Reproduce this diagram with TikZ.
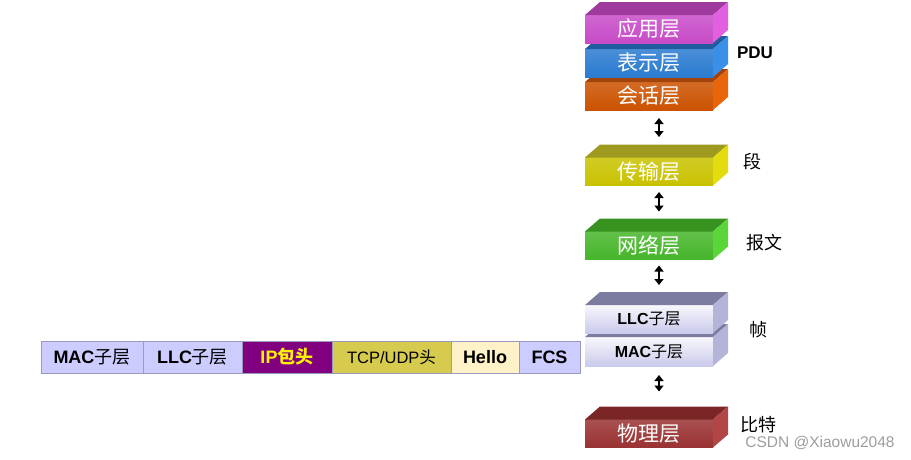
\documentclass[tikz,border=0pt]{standalone}
\usepackage{fontspec}
\setmainfont{Liberation Sans}
\newfontfamily\cjk{Noto Sans CJK SC}
\usetikzlibrary{arrows.meta}
\definecolor{appF}{HTML}{C84BC8}\definecolor{appT}{HTML}{9E3A9E}\definecolor{appS}{HTML}{E060E0}
\definecolor{preF}{HTML}{2A7BD0}\definecolor{preT}{HTML}{1F5C9E}\definecolor{preS}{HTML}{3A8FE8}
\definecolor{sesF}{HTML}{CC5200}\definecolor{sesT}{HTML}{A2430C}\definecolor{sesS}{HTML}{E8650A}
\definecolor{traF}{HTML}{C9C200}\definecolor{traT}{HTML}{9E9A1F}\definecolor{traS}{HTML}{E3DD10}
\definecolor{netF}{HTML}{46B52A}\definecolor{netT}{HTML}{37921F}\definecolor{netS}{HTML}{5AD63A}
\definecolor{phyF}{HTML}{9A3232}\definecolor{phyT}{HTML}{7A2626}\definecolor{phyS}{HTML}{B24545}
\definecolor{dlT}{HTML}{7C7CA0}\definecolor{dlS}{HTML}{B4B4D8}\definecolor{dlF}{HTML}{CACAEC}
\definecolor{lav}{HTML}{CCCCFF}\definecolor{segline}{HTML}{9A9AC0}
\definecolor{ipF}{HTML}{800080}\definecolor{tcpF}{HTML}{D6CB4E}\definecolor{helF}{HTML}{FFF2C8}
\newcommand\boxfaces[3]{%
  \fill[#2] (#1.north west) -- ++(15,-13) -- ++(128,0) -- (#1.north east) -- cycle;
  \fill[#3] (#1.north east) -- ++(15,-13) -- ([shift={(15,-13)}]#1.south east) -- (#1.south east) -- cycle;}
\begin{document}
\begin{tikzpicture}[x=1pt,y=-1pt,
  layerbox/.style={minimum width=128pt, minimum height=28pt, inner sep=0pt, outer sep=0pt,
    text=white, font=\cjk\fontsize{21}{21}\selectfont},
  dlbox/.style={minimum width=128pt, minimum height=28pt, inner sep=0pt, outer sep=0pt,
    top color=white!85!dlF, bottom color=dlF, font=\fontsize{16}{16}\selectfont},
  seg/.style={minimum height=32pt, inner sep=0pt, outer sep=0pt, draw=segline, line width=0.8pt,
    anchor=west, font=\fontsize{18}{18}\selectfont},
  side label/.style={font=\cjk\fontsize{18}{18}\selectfont, inner sep=0pt},
  dbl/.style={line width=2.6pt, {Triangle[length=6pt,width=9pt]}-{Triangle[length=6pt,width=9pt]}}]
\useasboundingbox (0,0) rectangle (911,459);
\fill[white] (0,0) rectangle (911,459);

% upper stack
\node[layerbox, top color=sesF!85!white, bottom color=sesF] (sess) at (649,96) {会话层};
\boxfaces{sess}{sesT}{sesS}
\node[layerbox, top color=preF!85!white, bottom color=preF] (pres) at (649,63) {表示层};
\boxfaces{pres}{preT}{preS}
\node[layerbox, top color=appF!85!white, bottom color=appF] (app) at (649,29) {应用层};
\boxfaces{app}{appT}{appS}

\node[layerbox, top color=traF!85!white, bottom color=traF] (trans) at (649,171.5) {传输层};
\boxfaces{trans}{traT}{traS}
\node[layerbox, top color=netF!85!white, bottom color=netF] (net) at (649,245.5) {网络层};
\boxfaces{net}{netT}{netS}

\node[dlbox, minimum height=29pt] (mac) at (649,351.5) {\bfseries MAC{\cjk\mdseries 子层}};
\boxfaces{mac}{dlT}{dlS}
\node[dlbox] (llc) at (649,319) {\bfseries LLC{\cjk\mdseries 子层}};
\boxfaces{llc}{dlT}{dlS}

\node[layerbox, top color=phyF!85!white, bottom color=phyF] (phys) at (649,433.5) {物理层};
\boxfaces{phys}{phyT}{phyS}

% arrows
\draw[dbl, shorten <=8pt, shorten >=20.5pt] ([xshift=10pt]sess.south) -- ([xshift=10pt]trans.north);
\draw[dbl, shorten <=6.5pt, shorten >=20pt] ([xshift=10pt]trans.south) -- ([xshift=10pt]net.north);
\draw[dbl, shorten <=6pt, shorten >=20pt] ([xshift=10pt]net.south) -- ([xshift=10pt]llc.north);
\draw[dbl, shorten <=9pt, shorten >=28pt] ([xshift=10pt]mac.south) -- ([xshift=10pt]phys.north);

% right labels
\node[font=\bfseries\fontsize{17}{17}\selectfont, inner sep=0pt] (pdu) at (755,53) {PDU};
\node[side label] (duan) at (752.5,162) {段};
\node[side label] (baowen) at (764.5,243) {报文};
\node[side label] (zhen) at (758,330) {帧};
\node[side label] (bite) at (758.5,425) {比特};

% frame bar
\node[seg, fill=lav, minimum width=102pt] (bmac) at (41,357) {\bfseries MAC{\cjk\mdseries 子层}};
\node[seg, fill=lav, minimum width=99pt] (bllc) at (bmac.east) {\bfseries LLC{\cjk\mdseries 子层}};
\node[seg, fill=ipF, minimum width=90pt, text=yellow] (bip) at (bllc.east) {\bfseries IP{\cjk 包头}};
\node[seg, fill=tcpF, minimum width=119pt, font=\fontsize{16.5}{16.5}\selectfont] (btcp) at (bip.east) {TCP/UDP{\cjk 头}};
\node[seg, fill=helF, minimum width=68pt] (bhel) at (btcp.east) {\bfseries Hello};
\node[seg, fill=lav, minimum width=61pt] (bfcs) at (bhel.east) {\bfseries FCS};

% watermark
\node[text=black!38, font=\fontsize{15.5}{15.5}\selectfont, inner sep=0pt] (wm) at (820,443) {CSDN @Xiaowu2048};
\end{tikzpicture}
\end{document}
